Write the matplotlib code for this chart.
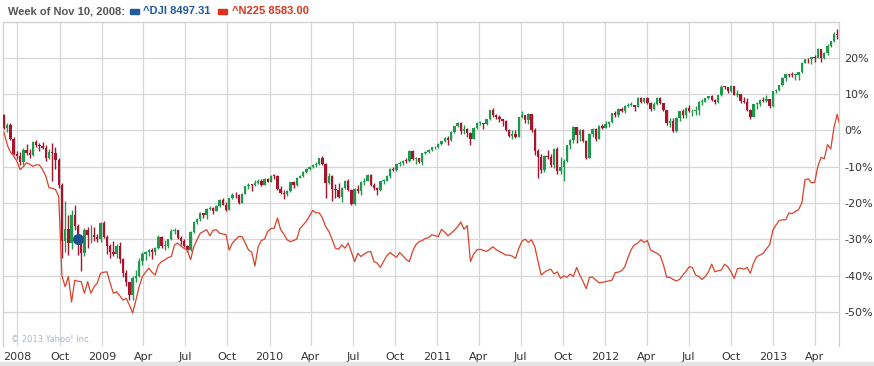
#!/usr/bin/env python3
"""Weekly ^DJI candles vs ^N225 line, percent change, Yahoo-style comparison chart."""

from __future__ import annotations

import datetime as dt

import matplotlib

matplotlib.use("Agg")
import matplotlib.dates as mdates
import matplotlib.pyplot as plt
import numpy as np

W, H = 874, 366
START = dt.date(2008, 6, 2)  # first weekly bar (Monday)

# ^DJI weekly, % change vs start
dji_open0 = 4.1
dji_close = [
    0.6, 1.4, -2.4, -6.5, -7.0, -8.6, -5.3, -6.3, -6.7, -3.3,
    -4.0, -4.2, -4.9, -7.6, -5.9, -6.2, -8.2, -15.0, -30.4, -27.1,
    -31.0, -23.2, -26.3, -30.0, -33.7, -27.3, -28.9, -28.9, -29.3, -29.9,
    -25.6, -29.2, -31.8, -33.5, -34.1, -31.8, -35.3, -39.3, -41.8, -45.4,
    -40.5, -40.0, -36.0, -34.0, -33.4, -33.0, -33.5, -32.4, -29.4, -31.9,
    -31.8, -30.0, -27.8, -27.5, -29.7, -30.5, -31.8, -32.9, -28.0, -25.1,
    -24.5, -22.8, -23.2, -21.7, -21.4, -22.2, -20.9, -19.1, -20.4, -21.9,
    -18.7, -17.7, -17.9, -20.0, -17.4, -15.4, -15.0, -15.1, -14.4, -13.8,
    -14.9, -13.3, -14.1, -12.5, -12.6, -16.2, -17.1, -17.5, -16.8, -14.3,
    -15.0, -13.0, -12.5, -11.5, -10.6, -10.0, -9.4, -9.2, -7.7, -9.3,
    -14.5, -12.5, -16.0, -16.5, -18.2, -15.9, -13.9, -16.5, -20.2, -16.0,
    -16.8, -14.1, -13.8, -12.2, -15.1, -15.9, -16.4, -13.9, -13.8, -12.6,
    -10.5, -10.8, -9.3, -8.9, -8.3, -8.4, -5.7, -7.8, -7.7, -8.6,
    -6.2, -6.0, -5.3, -4.7, -4.6, -3.8, -2.9, -2.2, -2.6, -0.4,
    1.1, 2.1, -0.1, 0.3, -0.8, -2.3, 0.7, 2.0, 2.0, 1.7,
    3.0, 5.5, 4.1, 3.8, 3.1, 2.5, 0.1, -1.6, -1.1, -1.7,
    3.6, 4.3, 2.8, 4.5, 0.0, -5.7, -7.2, -10.9, -7.0, -7.4,
    -9.5, -5.2, -11.3, -10.1, -8.5, -4.1, -2.7, 0.8, -1.3, 0.1,
    -2.8, -7.5, -1.0, 0.4, -2.3, 1.3, 0.6, 1.8, 2.3, 4.8,
    4.3, 6.0, 5.4, 6.7, 6.9, 6.9, 6.4, 9.0, 7.8, 8.8,
    7.6, 5.9, 7.3, 9.0, 7.4, 5.6, 1.9, 2.6, -0.2, 3.4,
    5.2, 4.1, 6.1, 5.2, 5.3, 5.6, 7.7, 7.9, 8.8, 9.4,
    8.4, 7.8, 9.6, 12.0, 11.9, 10.7, 12.1, 9.8, 9.9, 8.0,
    7.9, 5.6, 3.7, 7.2, 7.3, 8.4, 8.2, 8.7, 6.6, 10.7,
    11.1, 12.4, 14.5, 15.4, 15.3, 15.2, 15.3, 16.1, 18.6, 19.6,
    19.5, 20.1, 20.0, 22.5, 19.8, 21.2, 23.3, 24.5, 26.5, 26.1,
]
dji_high = [
    4.5, 2.0, 1.9, -1.8, -5.6, -5.9, -4.8, -3.8, -5.2, -3.0,
    -2.6, -3.4, -3.2, -4.0, -5.0, -3.5, -4.5, -7.6, -14.5, -19.5,
    -23.2, -22.0, -20.5, -25.8, -29.8, -26.8, -26.5, -26.0, -26.5, -28.5,
    -25.2, -24.8, -28.9, -31.2, -30.4, -31.2, -30.8, -35.1, -38.5, -41.6,
    -40.1, -38.5, -35.2, -33.5, -33.1, -32.6, -32.4, -32.0, -28.7, -29.1,
    -30.2, -29.8, -27.2, -26.9, -27.3, -29.1, -30.0, -31.5, -27.8, -25.0,
    -24.2, -22.5, -22.6, -21.4, -20.9, -21.0, -20.6, -18.9, -18.5, -19.8,
    -18.6, -17.1, -16.9, -17.6, -17.3, -15.2, -14.6, -14.7, -13.7, -13.5,
    -13.5, -13.2, -13.0, -12.4, -12.0, -12.3, -15.3, -16.3, -16.5, -14.1,
    -13.9, -12.8, -12.3, -11.3, -10.3, -9.8, -9.2, -8.7, -7.5, -7.1,
    -9.0, -11.6, -12.2, -14.8, -14.6, -15.6, -13.6, -13.5, -16.2, -15.9,
    -15.1, -13.9, -13.0, -12.0, -12.1, -14.4, -15.5, -13.8, -13.4, -12.4,
    -10.4, -10.0, -9.2, -8.4, -8.1, -7.7, -5.5, -5.4, -7.3, -7.5,
    -6.1, -5.8, -5.1, -4.5, -4.3, -3.6, -2.8, -1.9, -1.6, -0.3,
    1.2, 2.3, 2.3, 1.5, 0.6, -0.5, 0.9, 2.2, 2.5, 2.1,
    3.1, 5.6, 6.1, 4.6, 4.3, 3.1, 2.8, 0.4, 0.0, 0.1,
    3.8, 5.2, 4.3, 4.9, 4.6, 0.7, -5.0, -6.6, -6.8, -5.4,
    -6.5, -4.9, -4.7, -7.3, -7.9, -3.9, -2.4, 1.2, 0.8, 0.5,
    0.3, -2.7, -0.7, 0.7, 0.6, 1.4, 1.7, 2.7, 2.6, 4.9,
    5.3, 6.1, 6.5, 7.0, 7.5, 7.8, 7.0, 9.1, 9.2, 9.0,
    9.2, 7.7, 7.7, 9.2, 9.3, 7.5, 5.7, 3.3, 3.3, 3.6,
    5.4, 5.8, 6.3, 7.0, 5.9, 6.6, 8.0, 8.5, 9.0, 9.5,
    9.7, 8.6, 9.8, 12.5, 12.3, 12.0, 12.4, 12.2, 11.0, 10.0,
    9.1, 8.9, 5.8, 7.2, 7.7, 8.5, 9.3, 9.7, 8.7, 10.8,
    11.3, 12.6, 14.6, 15.6, 15.6, 16.0, 15.8, 16.1, 18.7, 19.7,
    19.9, 20.3, 20.6, 22.6, 22.5, 21.5, 23.8, 24.6, 27.0, 28.0,
]
dji_low = [
    0.3, -0.5, -2.6, -6.8, -7.9, -9.5, -9.4, -6.9, -7.6, -7.0,
    -4.6, -5.8, -5.2, -8.3, -8.0, -13.8, -10.5, -15.8, -35.1, -33.5,
    -34.2, -32.7, -27.3, -34.4, -38.6, -34.5, -32.4, -31.0, -30.5, -30.8,
    -30.6, -29.6, -34.0, -35.0, -34.6, -35.0, -36.4, -40.2, -42.8, -46.7,
    -46.6, -41.6, -40.3, -37.0, -35.6, -34.5, -35.3, -34.3, -32.6, -32.4,
    -32.9, -32.3, -30.2, -28.6, -30.0, -31.5, -32.2, -33.5, -33.1, -28.3,
    -25.7, -25.0, -24.1, -24.5, -22.0, -23.0, -22.3, -21.0, -20.6, -22.2,
    -22.0, -18.9, -18.6, -20.3, -20.1, -17.6, -16.2, -16.6, -15.3, -14.8,
    -15.3, -15.0, -14.3, -14.2, -13.4, -16.4, -17.5, -18.9, -18.0, -17.0,
    -15.9, -15.2, -13.2, -12.7, -11.8, -10.9, -10.3, -10.2, -9.4, -9.5,
    -18.7, -14.8, -19.3, -18.5, -18.5, -19.8, -16.0, -16.8, -20.6, -20.5,
    -17.2, -17.7, -15.0, -14.0, -15.4, -16.3, -17.7, -16.6, -14.8, -14.0,
    -13.0, -11.2, -11.2, -9.8, -9.5, -8.9, -8.6, -8.1, -9.3, -8.9,
    -9.4, -6.6, -6.3, -5.6, -5.0, -4.8, -4.0, -3.1, -4.1, -2.8,
    -0.6, 0.9, -0.9, -0.9, -1.8, -3.9, -2.5, 0.4, 1.4, 0.5,
    1.4, 2.8, 3.7, 3.0, 2.4, 1.2, -0.1, -1.8, -2.3, -2.1,
    -1.8, 3.3, 1.9, 1.7, -0.4, -6.8, -13.2, -11.7, -11.5, -8.0,
    -10.0, -10.3, -11.9, -12.0, -13.8, -8.7, -5.1, -3.4, -3.5, -2.9,
    -3.3, -7.8, -7.7, -1.8, -3.0, -2.5, 0.4, 0.6, 1.0, 2.1,
    3.6, 3.8, 5.0, 4.8, 6.4, 6.6, 5.3, 6.3, 7.4, 7.6,
    7.3, 5.3, 5.6, 7.0, 7.2, 5.2, 1.6, 1.0, -0.4, -0.5,
    2.5, 3.5, 3.5, 5.0, 4.0, 4.3, 4.1, 6.9, 7.7, 8.6,
    8.0, 7.3, 7.6, 9.4, 11.3, 10.3, 10.6, 9.7, 9.3, 7.6,
    7.6, 5.2, 3.2, 3.6, 5.9, 6.8, 7.9, 7.9, 6.1, 6.5,
    10.3, 10.9, 12.3, 13.6, 14.6, 14.7, 13.9, 13.9, 15.8, 18.4,
    18.6, 18.3, 18.9, 19.8, 18.9, 19.6, 20.6, 22.9, 24.3, 25.1,
]

# ^N225 weekly close, % change vs start (last point runs just past the frame)
n225 = [
    -0.5, -4.0, -6.0, -7.0, -8.5, -10.8, -10.0, -8.9, -9.3, -9.9,
    -9.5, -9.5, -10.8, -12.6, -15.8, -15.9, -16.3, -18.1, -40.0, -43.0,
    -40.2, -47.2, -41.2, -41.5, -41.6, -44.8, -41.6, -44.8, -43.0, -42.0,
    -39.3, -39.0, -38.9, -42.0, -44.8, -44.4, -45.5, -46.7, -46.2, -48.1,
    -50.2, -46.7, -43.0, -40.2, -39.0, -37.9, -39.0, -39.8, -37.0, -36.1,
    -35.6, -35.0, -34.7, -31.5, -31.0, -31.8, -32.5, -32.9, -35.6, -32.0,
    -30.1, -28.3, -27.8, -27.3, -29.0, -27.5, -27.3, -28.3, -28.5, -28.7,
    -32.9, -31.0, -30.0, -29.2, -29.2, -31.0, -32.9, -33.5, -37.3, -32.0,
    -30.3, -29.9, -27.8, -27.0, -26.9, -24.1, -27.3, -28.5, -30.1, -30.6,
    -30.3, -29.9, -27.0, -26.0, -25.0, -23.5, -22.0, -22.7, -22.7, -24.1,
    -26.5, -27.8, -30.0, -32.4, -32.7, -31.5, -32.4, -31.0, -33.5, -36.1,
    -33.8, -34.7, -34.0, -33.5, -33.3, -36.1, -36.5, -37.7, -36.0, -34.5,
    -33.6, -34.3, -34.9, -33.6, -34.5, -35.5, -36.1, -33.3, -31.5, -30.6,
    -30.3, -29.7, -29.5, -28.7, -29.0, -29.2, -27.2, -28.0, -29.0, -28.3,
    -27.5, -26.5, -25.2, -27.2, -26.2, -36.1, -34.0, -32.9, -32.7, -33.0,
    -33.3, -32.7, -32.0, -32.8, -33.3, -33.8, -34.3, -34.3, -34.6, -35.2,
    -32.5, -30.5, -29.9, -30.8, -30.1, -32.0, -36.0, -39.8, -39.0, -38.5,
    -38.2, -39.5, -38.9, -40.7, -40.0, -40.4, -39.5, -40.2, -37.7, -39.8,
    -41.6, -43.5, -40.4, -40.4, -41.2, -41.9, -41.8, -41.6, -41.4, -41.2,
    -39.1, -39.0, -38.6, -37.5, -34.9, -32.7, -31.5, -31.0, -30.1, -30.8,
    -30.3, -32.9, -33.4, -33.8, -34.5, -37.0, -40.4, -40.4, -41.0, -41.4,
    -41.0, -39.8, -38.8, -37.5, -37.7, -39.8, -40.2, -41.0, -40.2, -38.9,
    -36.8, -38.9, -38.6, -38.4, -36.8, -37.5, -38.9, -40.7, -38.0, -37.9,
    -38.2, -37.7, -39.3, -36.5, -34.7, -34.3, -33.8, -32.6, -31.5, -27.5,
    -26.0, -24.8, -24.6, -24.6, -22.7, -22.9, -22.3, -21.8, -20.0, -13.6,
    -13.3, -14.4, -14.3, -9.9, -7.4, -7.8, -3.9, -5.1, 0.7, 4.4,
    0.8,
]

hover_week = 23
header_text = "Week of Nov 10, 2008:"
dji_label = "^DJI 8497.31"
n225_label = "^N225 8583.00"
credit = "\u00a9 2013 Yahoo! Inc."

tick_dates = [
    dt.date(2008, 7, 1), dt.date(2008, 10, 1), dt.date(2009, 1, 1), dt.date(2009, 4, 1),
    dt.date(2009, 7, 1), dt.date(2009, 10, 1), dt.date(2010, 1, 1), dt.date(2010, 4, 1),
    dt.date(2010, 7, 1), dt.date(2010, 10, 1), dt.date(2011, 1, 1), dt.date(2011, 4, 1),
    dt.date(2011, 7, 1), dt.date(2011, 10, 1), dt.date(2012, 1, 1), dt.date(2012, 4, 1),
    dt.date(2012, 7, 1), dt.date(2012, 10, 1), dt.date(2013, 1, 1), dt.date(2013, 4, 1),
]
tick_labels = [
    "2008", "Oct", "2009", "Apr", "Jul", "Oct", "2010", "Apr", "Jul", "Oct",
    "2011", "Apr", "Jul", "Oct", "2012", "Apr", "Jul", "Oct", "2013", "Apr",
]
y_ticks = [20, 10, 0, -10, -20, -30, -40, -50]

UP = "#1f9a4c"
DOWN = "#a8142c"
LINE = "#d8432b"
GRID = "#d6d6d6"
TEXT = "#333333"
HEAD_FONT = "Liberation Sans"


def px(x: float, y: float) -> tuple[float, float]:
    """Figure fraction from pixel coords (origin top-left)."""
    return x / W, 1 - y / H


def weekly(n: int) -> np.ndarray:
    return np.array([mdates.date2num(START + dt.timedelta(days=7 * i)) for i in range(n)])


def main() -> int:
    fig = plt.figure(figsize=(W / 100, H / 100), dpi=100)
    fig.patch.set_facecolor("white")

    left, right, top, bottom = 3, 839, 22, 346
    ax = fig.add_axes([left / W, 1 - bottom / H, (right - left) / W, (bottom - top) / H])

    x = weekly(len(dji_close))
    close = np.array(dji_close)
    opens = np.concatenate([[dji_open0], close[:-1]])
    hi = np.array(dji_high)
    lo = np.array(dji_low)
    up = close >= opens
    colors = np.where(up, UP, DOWN)

    ax.vlines(x, lo, hi, colors=colors, linewidth=1.0, zorder=3)
    body_lo = np.minimum(opens, close)
    body_h = np.maximum(np.abs(close - opens), 0.25)
    ax.bar(x, body_h, bottom=body_lo, width=5.2, color=colors, linewidth=0, zorder=4)

    ax.plot(weekly(len(n225)), n225, color=LINE, linewidth=0.9, zorder=5)
    ax.plot(x[hover_week], dji_close[hover_week], "o", color="#1f4f8f", ms=7, zorder=6)

    x0 = mdates.date2num(START)
    ax.set_xlim(x0 - 2.2, x0 + 1817)
    ax.set_ylim(-59.3, 29.8)

    ax.set_xticks([mdates.date2num(d) for d in tick_dates])
    ax.set_xticklabels(tick_labels)
    ax.set_yticks(y_ticks)
    ax.set_yticklabels([f"{v}%" for v in y_ticks])
    ax.yaxis.tick_right()
    ax.tick_params(axis="both", length=0, labelsize=8, colors=TEXT)
    ax.tick_params(axis="y", pad=4)
    ax.tick_params(axis="x", pad=4)
    ax.grid(True, color=GRID, linewidth=0.9, zorder=0)
    ax.set_axisbelow(True)
    for sp in ax.spines.values():
        sp.set_color("#cfcfcf")
        sp.set_linewidth(0.9)
    ax.spines["bottom"].set_visible(False)

    ax.text(8 / (right - left), (bottom - 340) / (bottom - top), credit,
            transform=ax.transAxes, fontsize=6, color="#aab8c8", va="center", ha="left")

    # header
    fig.text(*px(8, 11), header_text, fontsize=8, fontweight="bold", color="#555555",
             va="center", family=HEAD_FONT)
    fig.patches.append(plt.Rectangle(px(130, 14), 9 / W, 5 / H, transform=fig.transFigure,
                                     color="#1f5a9e", figure=fig))
    fig.text(*px(143, 11), dji_label, fontsize=8, fontweight="bold", color="#1f5a9e",
             va="center", family=HEAD_FONT)
    fig.patches.append(plt.Rectangle(px(218, 14), 9 / W, 5 / H, transform=fig.transFigure,
                                     color="#e0311c", figure=fig))
    fig.text(*px(232, 11), n225_label, fontsize=8, fontweight="bold", color="#e0311c",
             va="center", family=HEAD_FONT)

    # bottom band
    fig.patches.append(plt.Rectangle((0, 0), 1, 4 / H, transform=fig.transFigure,
                                     color="#e4e4e4", figure=fig))

    fig.savefig("out.png", dpi=100)
    plt.close(fig)
    return 0


if __name__ == "__main__":
    raise SystemExit(main())
